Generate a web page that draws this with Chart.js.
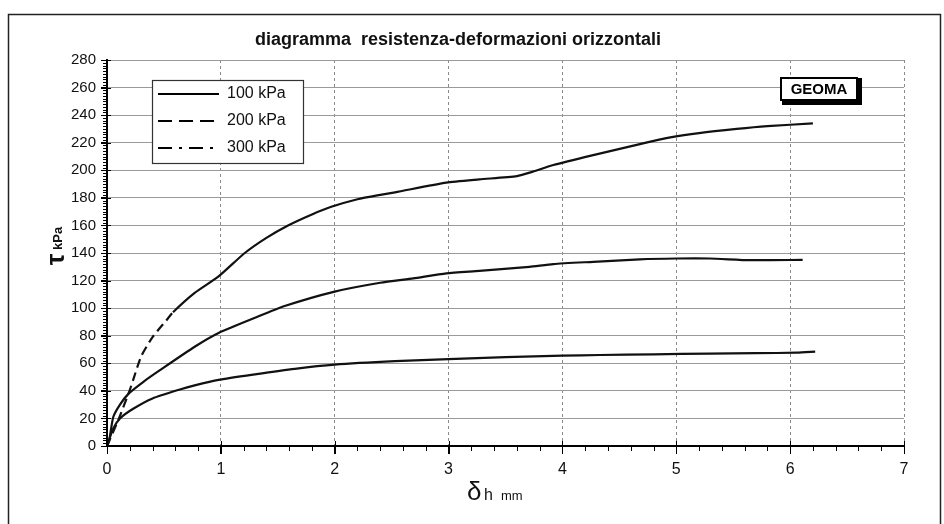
<!DOCTYPE html>
<html>
<head>
<meta charset="utf-8">
<script src="https://cdn.jsdelivr.net/npm/chart.js@4.4.0/dist/chart.umd.min.js"></script>
<style>
  html, body { margin: 0; padding: 0; background: #fff; }
  #wrap { width: 944px; height: 524px; position: relative; }
</style>
</head>
<body>
<div id="wrap"><canvas id="chart"></canvas></div>
<script>
// values (delta_h in mm, tau in kPa)
const seriesLabels = ['100 kPa', '200 kPa', '300 kPa'];

const x100 = [0, 0.055, 0.114, 0.23, 0.4, 0.64, 0.77, 0.98, 1.3, 1.65, 2.0, 2.53, 3.0, 3.5, 4.0, 4.33, 4.8, 5.29, 5.7, 6.06, 6.22];
const y100 = [0, 12.8, 20, 27, 34.5, 41, 44, 48, 52, 56, 59, 61.5, 63, 64.5, 65.5, 66, 66.5, 67, 67.3, 67.7, 68.4];

const x200 = [0, 0.02, 0.055, 0.114, 0.19, 0.32, 0.465, 0.77, 0.98, 1.3, 1.56, 2.0, 2.4, 2.69, 2.98, 3.27, 3.71, 3.92, 4.27, 4.68, 5.0, 5.29, 5.65, 6.11];
const y200 = [0, 4.3, 21, 30, 38, 46.6, 55, 72, 82, 93, 101.5, 112, 118.4, 121.6, 125.2, 127, 130, 132, 133.6, 135.4, 136, 136, 134.8, 135];

const x300 = [0, 0.1, 0.2, 0.23, 0.3, 0.4, 0.52, 0.58, 0.77, 0.98, 1.21, 1.4, 1.59, 1.8, 1.97, 2.2, 2.4, 2.53, 2.98, 3.27, 3.6, 3.74, 3.92, 4.27, 4.68, 4.96, 5.2, 5.53, 5.8, 6.2];
const y300 = [0, 19, 40.6, 48, 65, 79, 91, 97, 111, 123, 140, 151, 160, 168, 173.5, 179, 182.2, 184, 191, 193.4, 195.8, 199, 203.8, 211, 219, 224, 227, 230, 232, 234];

const xTicks = [0, 1, 2, 3, 4, 5, 6, 7];
const yTicks = [0, 20, 40, 60, 80, 100, 120, 140, 160, 180, 200, 220, 240, 260, 280];
const xMinorStep = 0.2;
const yMinorStep = 2;

const legendDash = [[], [14, 7], [14, 7, 3, 7]];

const FONT = "'Liberation Sans', Arial, sans-serif";

const toPoints = (xs, ys) => xs.map((x, i) => ({ x: x, y: ys[i] }));

// scanned sheet: border, title, axis titles, minor ticks, legend box, stamp
const sheet = {
  id: 'sheet',
  beforeDraw(chart) {
    const ctx = chart.ctx;
    ctx.save();
    ctx.fillStyle = '#fff';
    ctx.fillRect(0, 0, chart.width, chart.height);
    ctx.strokeStyle = '#222';
    ctx.lineWidth = 1.5;
    ctx.strokeRect(8.5, 14.5, 932, 530);
    ctx.restore();
  },
  afterDraw(chart) {
    const ctx = chart.ctx;
    const xs = chart.scales.x, ys = chart.scales.y;
    const area = chart.chartArea;
    ctx.save();

    // minor ticks
    ctx.strokeStyle = '#000';
    ctx.lineWidth = 1;
    ctx.beginPath();
    for (let v = 0; v <= 280 + 1e-6; v += yMinorStep) {
      const py = Math.round(ys.getPixelForValue(v)) + 0.5;
      const major = yTicks.includes(Math.round(v));
      ctx.moveTo(area.left - (major ? 6 : 4), py);
      ctx.lineTo(area.left + (major ? 4 : 0), py);
    }
    for (let v = 0; v <= 7 + 1e-6; v += xMinorStep) {
      const px = Math.round(xs.getPixelForValue(v)) + 0.5;
      const major = Math.abs(v - Math.round(v)) < 1e-6;
      ctx.moveTo(px, area.bottom - (major ? 5 : 0));
      ctx.lineTo(px, area.bottom + (major ? 8 : 5));
    }
    ctx.stroke();

    // title
    ctx.fillStyle = '#111';
    ctx.font = 'bold 18px ' + FONT;
    ctx.textAlign = 'center';
    ctx.textBaseline = 'middle';
    ctx.fillText('diagramma  resistenza-deformazioni orizzontali', 458, 40);

    // y axis title: tau kPa
    ctx.save();
    ctx.translate(57, 246);
    ctx.rotate(-Math.PI / 2);
    ctx.textAlign = 'left';
    ctx.textBaseline = 'alphabetic';
    ctx.font = 'bold 26px ' + FONT;
    const tw = ctx.measureText('\u03c4').width;
    ctx.font = 'bold 13px ' + FONT;
    const kw = ctx.measureText(' kPa').width;
    const sx = -(tw + kw) / 2;
    ctx.font = 'bold 26px ' + FONT;
    ctx.fillText('\u03c4', sx, 7);
    ctx.font = 'bold 13px ' + FONT;
    ctx.fillText(' kPa', sx + tw, 5);
    ctx.restore();

    // x axis title: delta_h mm
    ctx.textAlign = 'left';
    ctx.textBaseline = 'alphabetic';
    ctx.font = '26px ' + FONT;
    ctx.fillText('\u03b4', 467, 500);
    ctx.font = '16px ' + FONT;
    ctx.fillText('h', 484, 500);
    ctx.font = '13px ' + FONT;
    ctx.fillText('mm', 501, 500);

    // legend box
    const lx = 152, ly = 80, lw = 151, lh = 83;
    ctx.fillStyle = '#fff';
    ctx.fillRect(lx, ly, lw, lh);
    ctx.strokeStyle = '#333';
    ctx.lineWidth = 1.2;
    ctx.strokeRect(lx + 0.5, ly + 0.5, lw, lh);
    seriesLabels.forEach((label, i) => {
      const ry = 94 + i * 27;
      ctx.strokeStyle = '#000';
      ctx.lineWidth = 2;
      ctx.setLineDash(legendDash[i]);
      ctx.beginPath();
      ctx.moveTo(158, ry);
      ctx.lineTo(219, ry);
      ctx.stroke();
      ctx.setLineDash([]);
      ctx.fillStyle = '#111';
      ctx.font = '16px ' + FONT;
      ctx.textBaseline = 'middle';
      ctx.fillText(label, 227, ry);
    });

    // lab stamp
    ctx.fillStyle = '#000';
    ctx.fillRect(782, 78, 80, 27);
    ctx.fillStyle = '#fff';
    ctx.fillRect(782, 79, 74, 20);
    ctx.strokeStyle = '#000';
    ctx.lineWidth = 2;
    ctx.strokeRect(781, 78, 76, 22);
    ctx.fillStyle = '#000';
    ctx.font = 'bold 15px ' + FONT;
    ctx.textAlign = 'center';
    ctx.fillText('GEOMA', 819, 90);

    ctx.restore();
  }
};

const lineStyle = {
  borderColor: '#111',
  borderWidth: 2.2,
  pointRadius: 0,
  tension: 0.2,
  fill: false
};

new Chart(document.getElementById('chart'), {
  type: 'line',
  data: {
    datasets: [
      Object.assign({ label: seriesLabels[0], data: toPoints(x100, y100) }, lineStyle),
      Object.assign({ label: seriesLabels[1], data: toPoints(x200, y200) }, lineStyle),
      Object.assign({
        label: seriesLabels[2],
        data: toPoints(x300, y300),
        // the scan shows this curve broken into dashes near the origin
        segment: { borderDash: c => (c.p1.parsed.x <= 0.6 ? [9, 5] : undefined) }
      }, lineStyle)
    ]
  },
  options: {
    responsive: true,
    maintainAspectRatio: false,
    animation: false,
    layout: { padding: { left: 57, right: 40, top: 60, bottom: 48 } },
    plugins: {
      legend: { display: false },
      tooltip: { enabled: false }
    },
    scales: {
      x: {
        type: 'linear',
        min: 0,
        max: 7,
        afterBuildTicks: s => { s.ticks = xTicks.map(v => ({ value: v })); },
        afterFit: s => { s.height = 30; },
        ticks: { color: '#111', font: { family: FONT, size: 16 }, padding: 6, maxRotation: 0 },
        grid: { color: '#8a8a8a', lineWidth: 1, tickColor: '#000', tickLength: 8 },
        border: { color: '#000', width: 2, dash: [3, 3] }
      },
      y: {
        type: 'linear',
        min: 0,
        max: 280,
        afterBuildTicks: s => { s.ticks = yTicks.map(v => ({ value: v })); },
        afterFit: s => { s.width = 50; },
        ticks: { color: '#111', font: { family: FONT, size: 15 }, padding: 5 },
        grid: { color: '#9a9a9a', lineWidth: 1, tickColor: '#000', tickLength: 6 },
        border: { color: '#000', width: 2 }
      }
    }
  },
  plugins: [sheet]
});
</script>
</body>
</html>
